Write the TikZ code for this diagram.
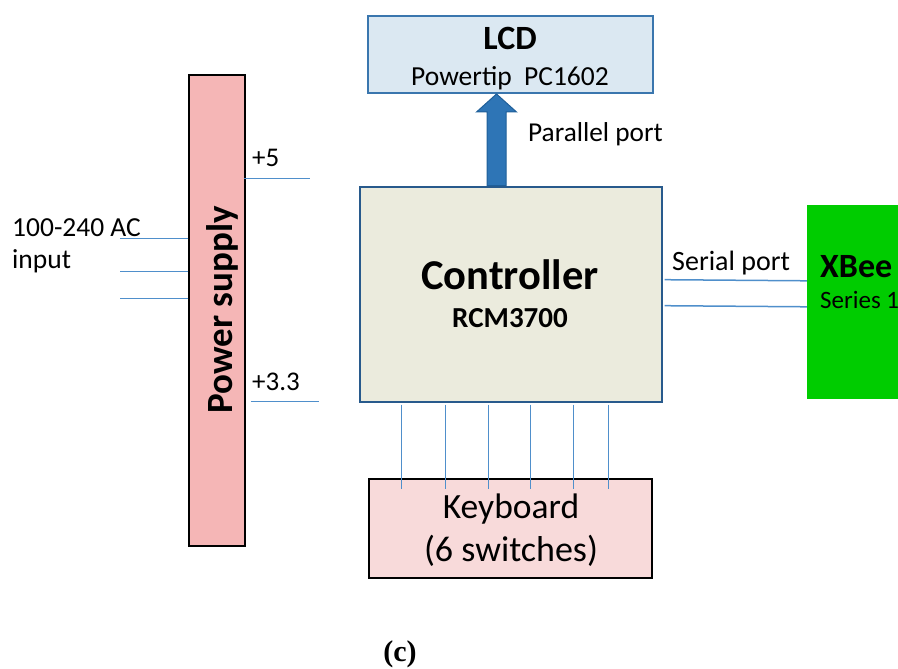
\documentclass[tikz,border=0pt]{standalone}
\usepackage{fontspec}
\setmainfont{Carlito}
\newfontfamily\serifc{Liberation Serif}
\usetikzlibrary{calc}
\definecolor{wire}{HTML}{4F8FCB}
\definecolor{lcdfill}{HTML}{DBE8F2}
\definecolor{lcdedge}{HTML}{3A76AE}
\definecolor{ctrlfill}{HTML}{EBEBDD}
\definecolor{ctrledge}{HTML}{285A8C}
\definecolor{pwfill}{HTML}{F5B6B6}
\definecolor{kbfill}{HTML}{F8DADA}
\definecolor{xbfill}{HTML}{00CC00}
\definecolor{arrfill}{HTML}{2E75B6}
\definecolor{arredge}{HTML}{1F5F99}
\newcommand{\fsz}[1]{\fontsize{#1}{#1}\selectfont}
\begin{document}
\begin{tikzpicture}[x=1pt,y=-1pt,
  box/.style={rectangle, inner sep=0pt},
  wireline/.style={draw=wire, line width=1.5pt},
  txt/.style={inner sep=0pt}]
\useasboundingbox (0,0) rectangle (898,669);
% boxes
\node[box, draw=lcdedge, fill=lcdfill, line width=2pt, minimum width=285pt, minimum height=77pt] (lcd) at (510.5,54.5) {};
\node[box, draw=ctrledge, fill=ctrlfill, line width=2.6pt, minimum width=302pt, minimum height=215pt] (ctrl) at (511,294.5) {};
\node[box, draw=black, fill=pwfill, line width=1.5pt, minimum width=56pt, minimum height=471pt] (pw) at (217,310.5) {};
\node[box, fill=xbfill, minimum width=92pt, minimum height=194pt] (xb) at (853,302) {};
\node[box, draw=black, fill=kbfill, line width=1.5pt, minimum width=283pt, minimum height=99pt] (kb) at (510.5,528.5) {};
% texts
\node[txt, anchor=base] (lcdt) at (510,50) {\fsz{34}\bfseries LCD};
\node[txt, anchor=base] (lcds) at (510,86) {\fsz{27.5}Powertip~~PC1602};
\node[txt, anchor=base west] (par) at (528,142) {\fsz{27.3}Parallel port};
\node[txt, anchor=base] (ctrlt) at (510,289) {\fsz{42.5}\bfseries Controller};
\node[txt, anchor=base] (ctrls) at (510,327) {\fsz{29}\bfseries RCM3700};
\node[txt, anchor=base, rotate=90] (pwt) at (232,310) {\fsz{37}\bfseries Power supply};
\node[txt, anchor=base west] (ac1) at (12,236) {\fsz{27.5}100-240 AC};
\node[txt, anchor=base west] (ac2) at (12,268) {\fsz{27.5}input};
\node[txt, anchor=base west] (p5) at (252,167) {\fsz{27}+5};
\node[txt, anchor=base west] (p33) at (252,390) {\fsz{27}+3.3};
\node[txt, anchor=base west] (ser) at (672,270) {\fsz{28}Serial port};
\node[txt, anchor=base west] (xbt) at (820,277) {\fsz{34}\bfseries XBee};
\node[txt, anchor=base west] (xbs) at (820,308) {\fsz{25}Series 1};
\node[txt, anchor=base] (kbt) at (511,518) {\fsz{35.5}Keyboard};
\node[txt, anchor=base] (kbs) at (511,561) {\fsz{36}(6 switches)};
\node[txt, anchor=base] (cap) at (400,661) {\fsz{30}\serifc\bfseries (c)};
% arrow
\coordinate (tip) at ($(lcd.south west)+(129.5,0)$);
\coordinate (abase) at (tip |- ctrl.north);
\filldraw[fill=arrfill, draw=arredge, line width=1pt]
  ($(abase)+(-9.5,0)$) -- ($(tip)+(-9.5,18)$) -- ($(tip)+(-20,18)$) -- (tip)
  -- ($(tip)+(20,18)$) -- ($(tip)+(9.5,18)$) -- ($(abase)+(9.5,0)$) -- cycle;
% power lines
\draw[wireline] ($(pw.north east)+(-2,104)$) -- ++(66,0);
\draw[wireline] ($(pw.north east)+(5,327)$) -- ++(68,0);
\foreach \o in {164,197,224}
  \draw[wireline] ($(pw.north west)+(0,\o)$) -- ++(-68,0);
% serial lines
\foreach \o in {94,120}
  \draw[wireline] ($(ctrl.north east)+(1.3,\o)$) -- ($(xb.north west)+(0,\o-18)$);
% keyboard lines
\foreach \o in {43,87,130,172,215,250}
  \draw[wireline] ($(ctrl.south west)+(\o,1.3)$) -- ++(0,84);
\end{tikzpicture}
\end{document}
